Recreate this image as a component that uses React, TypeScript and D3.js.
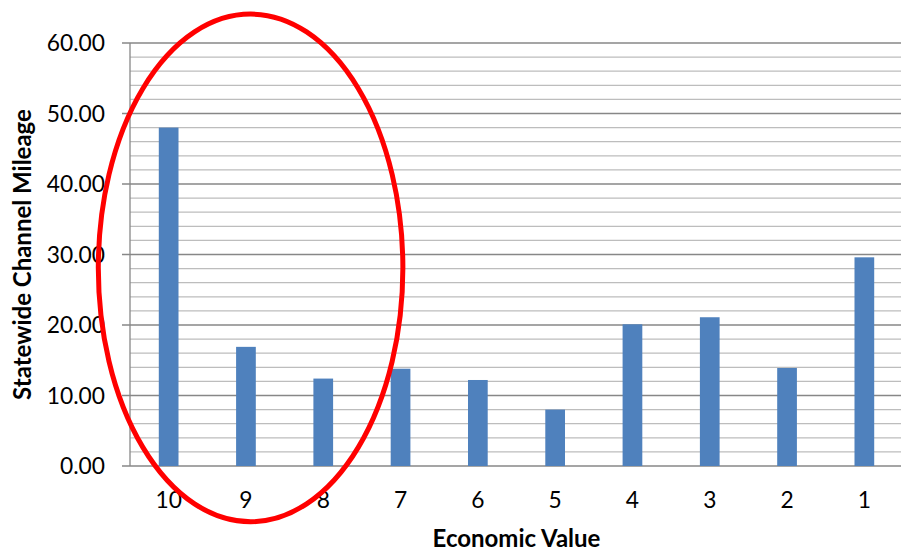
import React from "react";
import * as d3 from "d3";

const categories = ["10", "9", "8", "7", "6", "5", "4", "3", "2", "1"];
const mileage = [48.0, 16.9, 12.4, 13.8, 12.2, 8.0, 20.1, 21.1, 13.9, 29.6];
const yTicks = [0, 10, 20, 30, 40, 50, 60];
const yMinor = [2, 4, 6, 8, 12, 14, 16, 18, 22, 24, 26, 28, 32, 34, 36, 38, 42, 44, 46, 48, 52, 54, 56, 58];
// highlight ellipse in data units: center near category "9", value ~28
const highlight = { category: "9", value: 28.1, bandOffset: 0.06, halfWidthBands: 1.97, halfHeightValue: 36.0 };

const W = 901;
const H = 552;
const left = 130;
const right = 903;
const top = 43;
const bottom = 466;
const font = "Lato, 'Open Sans', sans-serif";

export default function App() {
  const x = d3.scaleBand<string>().domain(categories).range([left, right]).padding(0);
  const y = d3.scaleLinear().domain([0, 60]).range([bottom, top]);
  const bw = x.bandwidth() * 0.255;
  const cx = (x(highlight.category) as number) + x.bandwidth() * (0.5 + highlight.bandOffset);
  const cy = y(highlight.value);
  const rx = x.bandwidth() * highlight.halfWidthBands;
  const ry = y(0) - y(highlight.halfHeightValue);

  return (
    <div style={{ position: "absolute", left: 0, top: 0 }}>
      <svg width={W} height={H} style={{ display: "block", background: "#fff" }}>
        {yMinor.map((t) => (
          <line key={"m" + t} x1={left} x2={right} y1={y(t)} y2={y(t)} stroke="#bdbdbd" strokeWidth={1.3} />
        ))}
        {yTicks.map((t) => (
          <line key={"g" + t} x1={left - 8} x2={right} y1={y(t)} y2={y(t)} stroke="#878787" strokeWidth={1.3} />
        ))}
        <line x1={left} x2={left} y1={top} y2={bottom} stroke="#878787" strokeWidth={1.3} />
        {yTicks.map((t) => (
          <text key={"t" + t} x={105} y={y(t)} dy="0.36em" textAnchor="end" fontFamily={font} fontSize={22.8} fill="#000">
            {t.toFixed(2)}
          </text>
        ))}
        {categories.map((c, i) => (
          <rect key={c} x={(x(c) as number) + x.bandwidth() / 2 - bw / 2} y={y(mileage[i])} width={bw} height={y(0) - y(mileage[i])} fill="#4f81bd" />
        ))}
        {categories.map((c) => (
          <text key={"x" + c} x={(x(c) as number) + x.bandwidth() / 2} y={508} textAnchor="middle" fontFamily={font} fontSize={22.8} fill="#000">
            {c}
          </text>
        ))}
        <text x={(left + right) / 2} y={547} textAnchor="middle" fontFamily={font} fontSize={24} fontWeight="bold" fill="#000">
          Economic Value
        </text>
        <text
          transform={`translate(31, ${(top + bottom) / 2}) rotate(-90)`}
          textAnchor="middle"
          fontFamily={font}
          fontSize={24}
          fontWeight="bold"
          fill="#000"
        >
          Statewide Channel Mileage
        </text>
        <ellipse cx={cx} cy={cy} rx={rx} ry={ry} fill="none" stroke="#ff0000" strokeWidth={5} />
      </svg>
    </div>
  );
}
